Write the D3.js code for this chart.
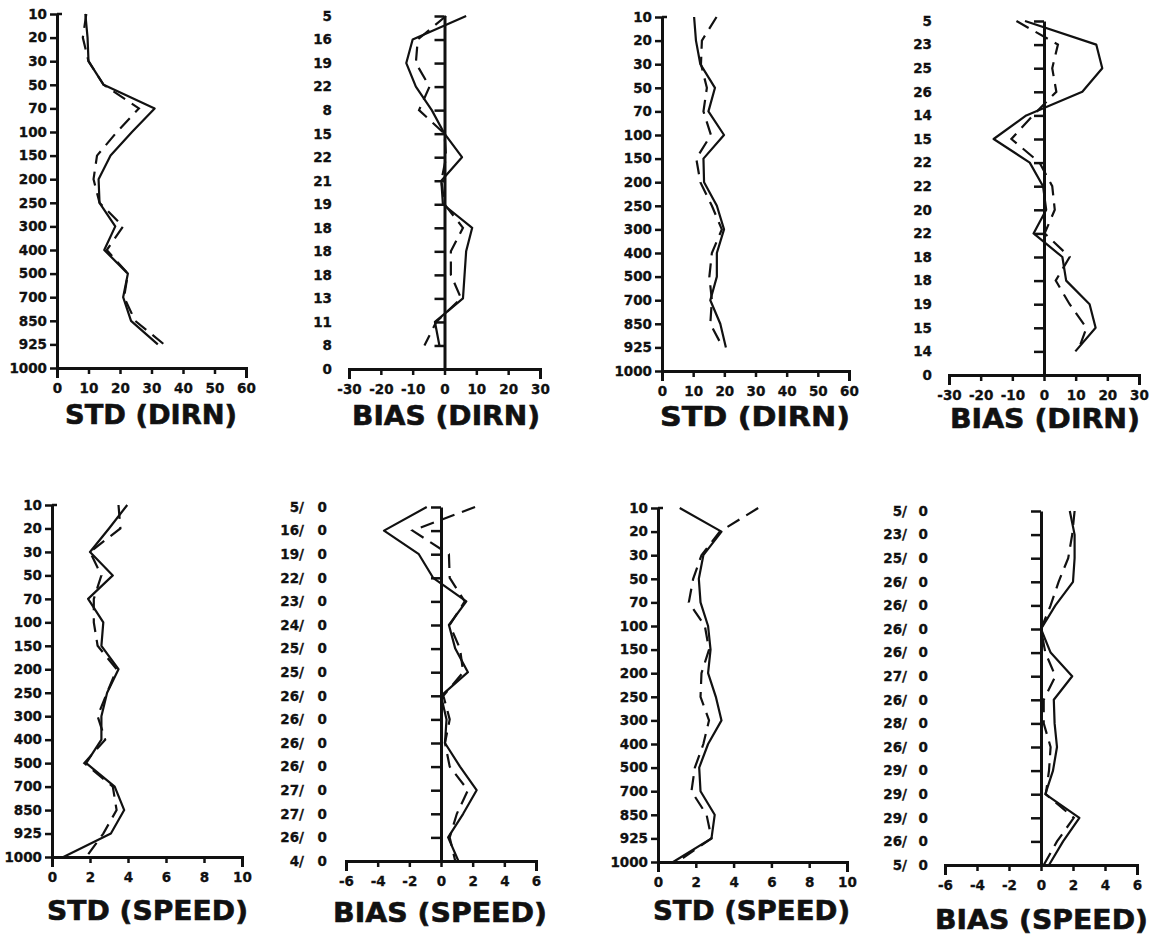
<!DOCTYPE html>
<html>
<head>
<meta charset="utf-8">
<script src="https://cdn.jsdelivr.net/npm/d3@7"></script>
<style>
  body { margin: 0; background: #fff; }
  svg { display: block; }
  .tick text, .lab { font-family: "DejaVu Sans", sans-serif; font-weight: bold; font-size: 13.5px; fill: #111; stroke: #111; stroke-width: 0.3px; }
  .title { font-family: "DejaVu Sans", sans-serif; font-weight: bold; font-size: 27px; fill: #111; stroke: #111; stroke-width: 0.6px; }
</style>
</head>
<body>
<script>
///////////////////   Data   /////////////////

// pressure levels (hPa), top to bottom
var levels = ["10","20","30","50","70","100","150","200","250","300","400","500","700","850","925","1000"];

// direction panels have no value at 1000
var stdDirnLeftSolid   = [9, 9.7, 10, 14.8, 31, 23.8, 17, 13.2, 13.5, 18.5, 15, 22.5, 21, 23.5, 32];
var stdDirnLeftDashed  = [9.3, 8.2, 10, 14.8, 26, 19, 12.7, 11.6, 13.5, 21, 15.8, 22.5, 21.3, 24.8, 34];
var biasDirnLeftSolid  = [6.8, -10, -12, -9, -4, 0, 5.5, -1, -0.5, 8.7, 6.8, 6.3, 5.8, -3, -1.6];
var biasDirnLeftDashed = [0.5, -8.4, -9, -4.7, -8, 0, 0.5, -1, 0, 5.8, 2, 2, 5.2, -2.6, -6.3];
var biasDirnLeftCounts = ["5","16","19","22","8","15","22","21","19","18","18","18","13","11","8","0"];

var stdDirnRightSolid   = [10.3, 10.9, 12.3, 17, 14.9, 19.9, 13.3, 13.5, 17.6, 19.9, 17.6, 17.6, 15.5, 18.7, 20.5];
var stdDirnRightDashed  = [17.5, 12.8, 12.5, 14.4, 13.3, 15.7, 11, 12.3, 16, 19.2, 16, 15.2, 16, 15.5, 19.5];
var biasDirnRightSolid  = [-6, 16.5, 18.4, 12.1, -5.6, -15.9, -4.5, -0.3, 0.7, -3.3, 5.8, 7, 14.4, 16.3, 9.9];
var biasDirnRightDashed = [-8.7, 4.4, 2.6, 3.9, -3.5, -10.3, -1.4, 2.6, 3.4, 0.2, 8.1, 3.7, 8.1, 13.4, 10.7];
var biasDirnRightCounts = ["5","23","25","26","14","15","22","22","20","22","18","18","19","15","14","0"];

var stdSpeedLeftSolid   = [3.96, 3.0, 2.0, 3.2, 1.9, 2.7, 2.6, 3.5, 2.9, 2.6, 2.6, 1.8, 3.3, 3.8, 3.1, 0.6];
var stdSpeedLeftDashed  = [3.5, 3.6, 2.0, 2.6, 2.2, 2.2, 2.4, 3.4, 2.9, 2.4, 2.8, 1.7, 3.2, 3.4, 2.7, 1.8];
var biasSpeedLeftSolid  = [-0.9, -3.6, -1.4, -0.5, 1.6, 0.5, 0.9, 1.7, 0, 0.35, 0.25, 1.2, 2.25, 1.4, 0.45, 1.1];
var biasSpeedLeftDashed = [2.15, -1.8, 0.5, 0.55, 1.5, 0.55, 1.2, 1.4, 0.15, 0.55, 0.25, 0.55, 1.7, 1.0, 0.55, 0.9];
var biasSpeedLeftCounts = ["5/","16/","19/","22/","23/","24/","25/","25/","26/","26/","26/","26/","27/","27/","26/","4/"];
var biasSpeedLeftRej    = ["0","0","0","0","0","0","0","0","0","0","0","0","0","0","0","0"];

var stdSpeedRightSolid   = [1.15, 3.36, 2.4, 2.16, 2.25, 2.65, 2.78, 2.65, 3.06, 3.36, 2.65, 2.18, 2.25, 3.0, 2.83, 0.8];
var stdSpeedRightDashed  = [5.3, 3.27, 2.3, 1.86, 1.63, 2.48, 2.7, 2.3, 2.25, 2.7, 2.4, 1.95, 1.77, 2.57, 2.83, 1.0];
var biasSpeedRightSolid  = [1.8, 2.1, 2.1, 2.0, 0.9, 0, 0.6, 1.95, 0.8, 0.85, 1.0, 0.75, 0.27, 2.4, 1.38, 0.5];
var biasSpeedRightDashed = [2.1, 1.95, 1.7, 1.1, 0.6, 0, 0.27, 0.9, 0.17, 0.17, 0.6, 0.5, 0.3, 2.05, 1.0, 0.17];
var biasSpeedRightCounts = ["5/","23/","25/","26/","26/","26/","26/","27/","26/","28/","26/","29/","29/","29/","26/","5/"];
var biasSpeedRightRej    = ["0","0","0","0","0","0","0","0","0","0","0","0","0","0","0","0"];

var dirnStdTicks  = [0, 10, 20, 30, 40, 50, 60],
    dirnBiasTicks = [-30, -20, -10, 0, 10, 20, 30],
    speedStdTicks = [0, 2, 4, 6, 8, 10],
    speedBiasTicks = [-6, -4, -2, 0, 2, 4, 6];

///////////////////   Layout   /////////////////

var panels = [
  {bias:false, solid:stdDirnLeftSolid,  dashed:stdDirnLeftDashed,  ticks:dirnStdTicks,  x0:57,  x1:246,  y0:14,  y1:368, title:"STD (DIRN)",  tx0:65,  tx1:237,  ty:424},
  {bias:true,  solid:biasDirnLeftSolid, dashed:biasDirnLeftDashed, ticks:dirnBiasTicks, x0:349, x1:540,  y0:16,  y1:369, title:"BIAS (DIRN)", tx0:352, tx1:540,  ty:425,
   counts:biasDirnLeftCounts, cx:332},
  {bias:false, solid:stdDirnRightSolid,  dashed:stdDirnRightDashed,  ticks:dirnStdTicks,  x0:662, x1:849,  y0:17,  y1:371, title:"STD (DIRN)",  tx0:660, tx1:850,  ty:426},
  {bias:true,  solid:biasDirnRightSolid, dashed:biasDirnRightDashed, ticks:dirnBiasTicks, x0:949, x1:1139, y0:21,  y1:375, title:"BIAS (DIRN)", tx0:950, tx1:1140, ty:428,
   counts:biasDirnRightCounts, cx:932},
  {bias:false, solid:stdSpeedLeftSolid,  dashed:stdSpeedLeftDashed,  ticks:speedStdTicks,  x0:52,  x1:242,  y0:505, y1:857, title:"STD (SPEED)",  tx0:47,  tx1:248,  ty:920},
  {bias:true,  solid:biasSpeedLeftSolid, dashed:biasSpeedLeftDashed, ticks:speedBiasTicks, x0:346, x1:536,  y0:507, y1:861, title:"BIAS (SPEED)", tx0:333, tx1:547,  ty:922,
   counts:biasSpeedLeftCounts, cx:304, rej:biasSpeedLeftRej, rx:327},
  {bias:false, solid:stdSpeedRightSolid,  dashed:stdSpeedRightDashed,  ticks:speedStdTicks,  x0:658, x1:847,  y0:508, y1:862, title:"STD (SPEED)",  tx0:653, tx1:850,  ty:920},
  {bias:true,  solid:biasSpeedRightSolid, dashed:biasSpeedRightDashed, ticks:speedBiasTicks, x0:945, x1:1137, y0:511, y1:865, title:"BIAS (SPEED)", tx0:935, tx1:1148, ty:929,
   counts:biasSpeedRightCounts, cx:907, rej:biasSpeedRightRej, rx:928}
];

var ink = "#111";

////////////////	Main rendering      //////////////

var svg = d3.select("body").append("svg")
    .attr("width", 1155)
    .attr("height", 937);

panels.forEach(drawPanel);

function drawPanel(p){
  var ticks = p.ticks;
  var x = d3.scaleLinear()
      .domain([ticks[0], ticks[ticks.length-1]])
      .range([p.x0, p.x1]);
  var y = d3.scalePoint()
      .domain(levels)
      .range([p.y0, p.y1]);

  var g = svg.append("g");

  // x axis (plain hyphen for negatives, as in the original)
  var xa = g.append("g")
      .attr("transform", "translate(0," + p.y1 + ")")
      .call(d3.axisBottom(x).tickValues(ticks).tickFormat(function(d){ return String(d); })
        .tickSize(6).tickSizeOuter(10).tickPadding(9));
  styleAxis(xa);

  // y axis, at zero
  var ya;
  if (p.bias) {
    ya = g.append("g")
        .attr("transform", "translate(" + x(0) + ",0)")
        .call(d3.axisLeft(y).tickSize(10).tickSizeOuter(0).tickFormat(""));
    // observation counts down the left side
    g.selectAll(".cnt")
        .data(p.counts)
      .enter().append("text")
        .attr("class", "lab")
        .attr("x", p.cx)
        .attr("y", function(d,i){ return y(levels[i]); })
        .attr("dy", "0.36em")
        .attr("text-anchor", "end")
        .text(function(d){ return d; });
    if (p.rej) {
      g.selectAll(".rej")
          .data(p.rej)
        .enter().append("text")
          .attr("class", "lab")
          .attr("x", p.rx)
          .attr("y", function(d,i){ return y(levels[i]); })
          .attr("dy", "0.36em")
          .attr("text-anchor", "end")
          .text(function(d){ return d; });
    }
  } else {
    ya = g.append("g")
        .attr("transform", "translate(" + x(0) + ",0)")
        .call(d3.axisLeft(y).tickSize(7).tickSizeOuter(0).tickPadding(3));
    // small cap at the top of the axis
    g.append("line")
        .attr("x1", x(0)).attr("x2", x(0) + 5)
        .attr("y1", p.y0).attr("y2", p.y0)
        .attr("stroke", ink).attr("stroke-width", 2.5);
  }
  styleAxis(ya);

  // profiles
  var line = d3.line()
      .x(function(d){ return x(d.v); })
      .y(function(d){ return y(d.level); });

  g.append("path")
      .datum(profile(p.solid))
      .attr("d", line)
      .attr("fill", "none")
      .attr("stroke", ink)
      .attr("stroke-width", 2.2)
      .attr("stroke-linejoin", "round");

  g.append("path")
      .datum(profile(p.dashed))
      .attr("d", line)
      .attr("fill", "none")
      .attr("stroke", ink)
      .attr("stroke-width", 2.2)
      .attr("stroke-dasharray", "14,8");

  // title
  g.append("text")
      .attr("class", "title")
      .attr("x", (p.tx0 + p.tx1) / 2)
      .attr("y", p.ty)
      .attr("text-anchor", "middle")
      .attr("textLength", p.tx1 - p.tx0)
      .attr("lengthAdjust", "spacingAndGlyphs")
      .text(p.title);
}

////////////////	Helper functions    //////////////

// pair each value with its pressure level
function profile(values){
  return values.map(function(v,i){ return {level: levels[i], v: v}; });
}

function styleAxis(a){
  a.select(".domain").attr("stroke", ink).attr("stroke-width", 3);
  a.selectAll(".tick line").attr("stroke", ink).attr("stroke-width", 2.5);
  a.selectAll(".tick text").attr("fill", ink);
}
</script>
</body>
</html>
